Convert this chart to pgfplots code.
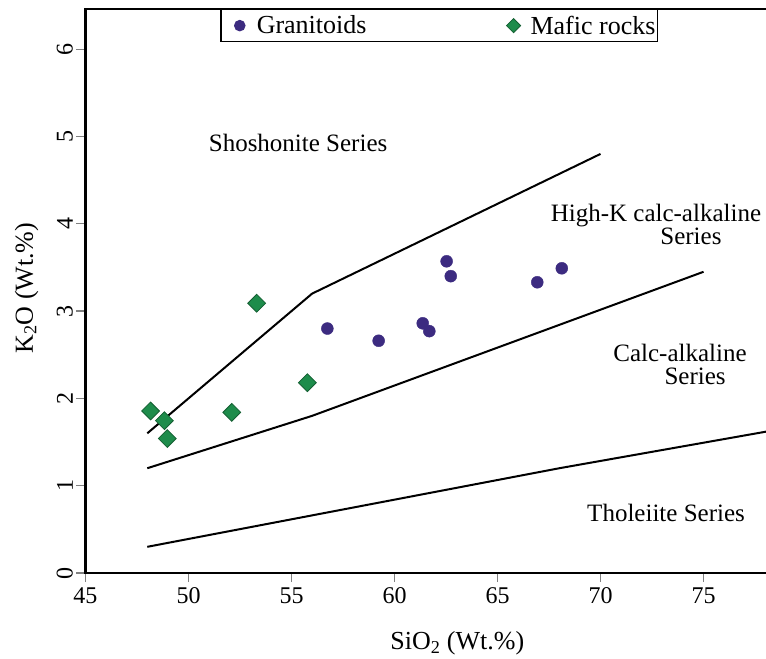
\documentclass[border=0pt]{standalone}
\usepackage{pgfplots}
\pgfplotsset{compat=1.18}
\usepackage{fontspec}
\setmainfont{Liberation Serif}
\definecolor{granit}{RGB}{60,43,128}
\definecolor{maficfill}{RGB}{30,140,75}
\definecolor{maficedge}{RGB}{20,95,50}
\begin{document}
\begin{tikzpicture}
\begin{axis}[
  scale only axis,
  width=686bp, height=564bp,
  xmin=45, xmax=78.3, ymin=0, ymax=6.46,
  xtick={45,50,...,75}, ytick={0,1,...,6},
  xticklabels={\textrm{45},\textrm{50},\textrm{55},\textrm{60},\textrm{65},\textrm{70},\textrm{75}},
  yticklabels={\textrm{0},\textrm{1},\textrm{2},\textrm{3},\textrm{4},\textrm{5},\textrm{6}},
  tick pos=left, tick align=outside,
  major tick length=9bp,
  tick style={gray, line width=1.2bp},
  axis line style={line width=2.5bp},
  ticklabel style={font=\rmfamily\fontsize{24bp}{28bp}\selectfont},
  xticklabel style={yshift=-2bp},
  yticklabel style={rotate=90, anchor=south},
  xlabel={SiO\textsubscript{2} (Wt.\%)},
  ylabel={K\textsubscript{2}O (Wt.\%)},
  label style={font=\fontsize{26bp}{30bp}\selectfont},
  xlabel style={at={(axis description cs:0.542,-0.1365)}, anchor=base, inner sep=0pt},
  ylabel style={at={(axis description cs:-0.0685,0.505)}, anchor=south, inner sep=0pt},
  legend columns=2,
  legend cell align=left,
  legend style={at={(axis cs:51.53,6.46)}, anchor=north west, draw=black, line width=1.5bp,
    inner xsep=0bp, inner ysep=4bp,
    font=\fontsize{26bp}{29bp}\selectfont,
    /tikz/every even column/.append style={column sep=126bp}},
]
% boundary lines
\addplot[black, line width=2bp, forget plot] coordinates {(48,1.6) (56,3.2) (70,4.8)};
\addplot[black, line width=2bp, forget plot] coordinates {(48,1.2) (56,1.8) (75,3.45)};
\addplot[black, line width=2bp, forget plot] coordinates {(48,0.3) (68,1.2) (78.3,1.63)};
% data
\addplot[only marks, mark=*, mark size=6bp, draw=granit, fill=granit,
  legend image code/.code={\path[draw=none, fill=none] (0bp,-5bp) (34bp,5bp); \draw[only marks, mark size=5bp, mark repeat=2, mark phase=2] plot coordinates {(0bp,0bp) (19bp,0bp) (34bp,0bp)};}]
  coordinates {
  (56.74,2.80) (59.23,2.66) (61.37,2.86) (61.69,2.77)
  (62.53,3.57) (62.73,3.40) (66.93,3.33) (68.12,3.49)
  };
\addlegendentry{Granitoids}
\addplot[only marks, mark=square*, mark size=6.3bp, mark options={rotate=45, draw=maficedge, fill=maficfill, line width=0.8bp},
  legend image code/.code={\path[draw=none, fill=none] (0bp,-5bp) (34bp,5bp); \draw[only marks, mark size=5bp, mark repeat=2, mark phase=2] plot coordinates {(0bp,0bp) (19bp,0bp) (34bp,0bp)};}]
  coordinates {
  (48.16,1.856) (48.83,1.745) (48.97,1.54) (52.10,1.84) (53.31,3.09) (55.77,2.18)
  };
\addlegendentry{Mafic rocks}
% labels
\node[font=\fontsize{25bp}{28bp}\selectfont, anchor=base, inner sep=0pt] at (axis cs:55.32,4.826) {Shoshonite Series};
\node[font=\fontsize{25bp}{28bp}\selectfont, anchor=base, inner sep=0pt] at (axis cs:72.69,4.024) {High-K calc-alkaline};
\node[font=\fontsize{25bp}{28bp}\selectfont, anchor=base, inner sep=0pt] at (axis cs:74.39,3.76) {Series};
\node[font=\fontsize{25bp}{28bp}\selectfont, anchor=base, inner sep=0pt] at (axis cs:73.86,2.42) {Calc-alkaline};
\node[font=\fontsize{25bp}{28bp}\selectfont, anchor=base, inner sep=0pt] at (axis cs:74.59,2.156) {Series};
\node[font=\fontsize{25bp}{28bp}\selectfont, anchor=base, inner sep=0pt] at (axis cs:73.18,0.588) {Tholeiite Series};
\end{axis}
\pgfresetboundingbox
\useasboundingbox (-85.5bp,-86bp) rectangle (680.5bp,573bp);
\end{tikzpicture}
\end{document}
